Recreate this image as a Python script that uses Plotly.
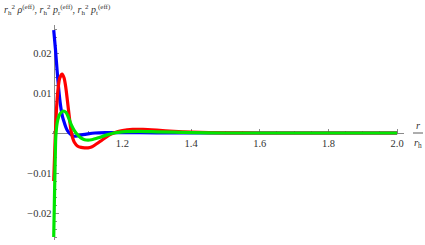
import plotly.graph_objects as go

# ---- data ----
r_blue = [1.0, 1.005, 1.01, 1.015, 1.02, 1.025, 1.03, 1.035, 1.04, 1.05, 1.058, 1.07, 1.085, 1.1, 1.12, 1.15, 1.2, 1.3, 1.4, 1.6, 1.8, 2.0]
rho_eff = [0.0257, 0.021, 0.0155, 0.0105, 0.0068, 0.0043, 0.0028, 0.0015, 0.0006, -0.0004, -0.0008, -0.0007, -0.0004, -0.0002, 0.0, 0.0001, 0.0001, 0.00005, 0.0, 0.0, 0.0, 0.0]

r_red = [1.0, 1.004, 1.008, 1.012, 1.017, 1.0245, 1.03, 1.035, 1.04, 1.045, 1.05, 1.055, 1.06, 1.07, 1.08, 1.09, 1.1, 1.11, 1.12, 1.14, 1.16, 1.175, 1.2, 1.23, 1.26, 1.3, 1.35, 1.4, 1.5, 1.6, 1.8, 2.0]
pr_eff = [-0.012, -0.002, 0.0058, 0.0105, 0.0136, 0.0147, 0.0138, 0.0115, 0.008, 0.0043, 0.0008, -0.0012, -0.0023, -0.0033, -0.0036, -0.0037, -0.0037, -0.0035, -0.003, -0.0018, -0.0006, 0.0, 0.0006, 0.0009, 0.0009, 0.0007, 0.0004, 0.0002, 0.00005, 0.0, 0.0, 0.0]

r_green = [1.0, 1.002, 1.004, 1.006, 1.01, 1.015, 1.02, 1.029, 1.035, 1.04, 1.05, 1.06, 1.07, 1.08, 1.09, 1.1, 1.11, 1.13, 1.15, 1.175, 1.2, 1.25, 1.3, 1.4, 1.5, 1.6, 1.8, 2.0]
pt_eff = [-0.026, -0.017, -0.008, -0.001, 0.0025, 0.0042, 0.005, 0.0055, 0.0052, 0.0045, 0.0023, 0.0006, -0.0005, -0.0013, -0.0017, -0.0018, -0.0017, -0.0012, -0.0006, 0.0, 0.0003, 0.0004, 0.0003, 0.0001, 0.0, 0.0, 0.0, 0.0]

x_tickvals = [1.2, 1.4, 1.6, 1.8, 2.0]
x_ticktext = ["1.2", "1.4", "1.6", "1.8", "2.0"]
y_tickvals = [-0.02, -0.01, 0.01, 0.02]
y_ticktext = ["\u22120.02", "\u22120.01", "0.01", "0.02"]

# ---- layout geometry (pixels) ----
W, H = 425, 245
L, R, T, B = 52, 21, 25, 5
XR = [0.995, 2.02]
YR = [-0.02675, 0.027]
pw, ph = W - L - R, H - T - B

def px_x(px):
    return (px - L) / pw

def px_y(py):
    return (H - B - py) / ph

FONT = "'Liberation Serif', 'Times New Roman', Times, serif"
AX = "#8a8a8a"
TXT = "#333333"

fig = go.Figure()
for xs, ys, col in [(r_blue, rho_eff, "#0000ff"), (r_red, pr_eff, "#ff0000"), (r_green, pt_eff, "#00e600")]:
    fig.add_trace(go.Scatter(x=xs, y=ys, mode="lines", line=dict(color=col, width=3.2, shape="spline", smoothing=0.6),
                             showlegend=False, hoverinfo="skip"))

fig.update_layout(
    width=W, height=H, margin=dict(l=L, r=R, t=T, b=B, autoexpand=False),
    paper_bgcolor="white", plot_bgcolor="white",
    font=dict(family=FONT, size=10, color=TXT),
    xaxis=dict(range=XR, anchor="free", position=(0 - YR[0]) / (YR[1] - YR[0]), layer="below traces",
               showgrid=False, zeroline=False, showline=True, linecolor=AX, linewidth=1,
               tickmode="array", tickvals=x_tickvals, ticktext=x_ticktext,
               ticks="inside", ticklen=4, tickcolor=AX, tickwidth=1,
               minor=dict(tickmode="linear", tick0=1.0, dtick=0.05, ticks="inside", ticklen=2, tickcolor=AX),
               tickfont=dict(family=FONT, size=10.5, color=TXT)),
    yaxis=dict(range=YR, anchor="free", position=(1.0 - XR[0]) / (XR[1] - XR[0]), layer="below traces",
               showgrid=False, zeroline=False, showline=True, linecolor=AX, linewidth=1,
               tickmode="array", tickvals=y_tickvals, ticktext=y_ticktext,
               ticks="inside", ticklen=4, tickcolor=AX, tickwidth=1,
               minor=dict(tickmode="linear", tick0=0.0, dtick=0.002, ticks="inside", ticklen=2, tickcolor=AX),
               tickfont=dict(family=FONT, size=10.5, color=TXT)),
)

ylab = ("<i>r</i><sub>h</sub><sup>2</sup> <i>\u03c1</i><sup>(eff)</sup>, "
        "<i>r</i><sub>h</sub><sup>2</sup> <i>p</i><sub>r</sub><sup>(eff)</sup>, "
        "<i>r</i><sub>h</sub><sup>2</sup> <i>p</i><sub>t</sub><sup>(eff)</sup>")
fig.add_annotation(text=ylab, xref="paper", yref="paper", x=px_x(2), y=px_y(1),
                   xanchor="left", yanchor="top", showarrow=False,
                   font=dict(family=FONT, size=10, color=TXT))
fig.add_annotation(text="<i>r</i>", xref="paper", yref="paper", x=px_x(418), y=px_y(125),
                   xanchor="center", yanchor="middle", showarrow=False,
                   font=dict(family=FONT, size=10.5, color=TXT))
fig.add_annotation(text="<i>r</i><sub>h</sub>", xref="paper", yref="paper", x=px_x(418), y=px_y(143),
                   xanchor="center", yanchor="middle", showarrow=False,
                   font=dict(family=FONT, size=10.5, color=TXT))
fig.add_shape(type="line", xref="paper", yref="paper", x0=px_x(413), x1=px_x(423),
              y0=px_y(133), y1=px_y(133), line=dict(color=TXT, width=0.8))

fig.write_html("out.html", config={"displayModeBar": False, "staticPlot": True},
               post_script="document.body.style.margin='0';document.body.style.padding='0';")
